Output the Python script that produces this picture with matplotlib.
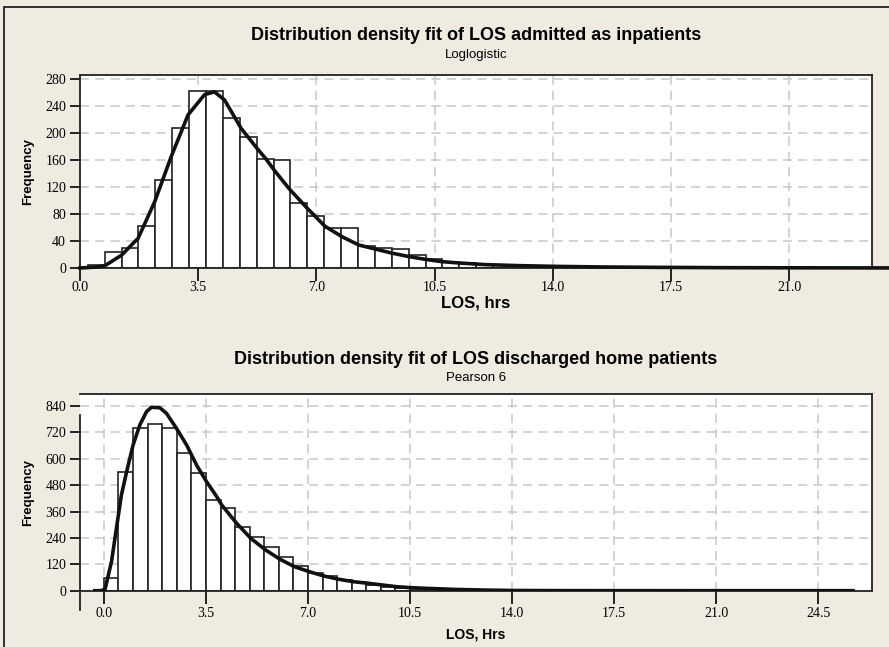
import numpy as np
import matplotlib
matplotlib.use("Agg")
from matplotlib import pyplot as plt
from matplotlib.lines import Line2D
from matplotlib.patches import Rectangle

# top panel: LOS admitted as inpatients (bins of 0.5 h starting at 0.23)
top_start = 0.23
top_width = 0.5
top_counts = [5, 23, 30, 62, 130, 207, 263, 263, 223, 194, 162, 160, 97, 77, 59, 59,
              33, 29, 28, 19, 14, 9, 7, 6, 4, 3, 2, 2, 1, 1, 1]
top_fit_x = [0.0, 0.5, 0.74, 1.23, 1.72, 2.21, 2.70, 3.20, 3.69, 3.98, 4.28, 4.77, 5.23,
             5.5, 5.75, 6.2, 6.7, 7.25, 7.77, 8.26, 8.75, 9.24, 9.73, 10.2, 10.7, 11.2,
             12.0, 13.0, 14.0, 15.5, 17.0, 19.0, 21.0, 23.9]
top_fit_y = [0, 1.5, 3.5, 19, 44, 98, 165, 227, 257, 261, 249, 207, 178,
             162, 145, 117, 90, 62, 46, 34, 28, 22, 17, 13, 9.5, 7.5,
             5, 3.5, 2.5, 1.5, 1, 0.5, 0.3, 0.1]
top_xticks = [0.0, 3.5, 7.0, 10.5, 14.0, 17.5, 21.0]
top_yticks = [0, 40, 80, 120, 160, 200, 240, 280]

# bottom panel: LOS discharged home patients (bins of 0.5 h starting at 0)
bot_start = 0.0
bot_width = 0.5
bot_counts = [59, 541, 742, 757, 742, 628, 534, 413, 375, 291, 246, 200, 152, 114, 79, 67,
              49, 38, 26, 18, 12, 9, 6, 5, 3, 2, 1, 1]
bot_fit_x = [-0.31, -0.1, 0.04, 0.26, 0.43, 0.60, 0.78, 1.0, 1.23, 1.46, 1.63, 1.92, 2.15,
             2.49, 2.84, 3.18, 3.52, 3.87, 4.04, 4.55, 5.04, 5.55, 6.04, 6.54, 7.06, 7.54,
             8.06, 8.55, 9.05, 9.55, 10.05, 10.5, 11.0, 12.0, 13.0, 14.0, 16.0, 20.0, 25.7]
bot_fit_y = [0, 0, 7, 132, 284, 435, 541, 662, 753, 814, 834, 832, 806,
             738, 662, 571, 496, 428, 390, 307, 238, 185, 143, 109, 86, 67,
             52, 41, 34, 26, 18, 14, 11, 6, 3, 1, 0.3, 0.1, 0]
bot_xticks = [0.0, 3.5, 7.0, 10.5, 14.0, 17.5, 21.0, 24.5]
bot_yticks = [0, 120, 240, 360, 480, 600, 720, 840]

bg = "#EFEBE1"
W, H = 889, 647
fig = plt.figure(figsize=(W / 100, H / 100), dpi=100, facecolor=bg)
fig.patches.append(Rectangle((4 / W, -0.1), 1.2, 1 - 7 / H + 0.1, transform=fig.transFigure,
                             fill=False, edgecolor="#222222", linewidth=1.3))

sans = "Liberation Sans"
serif = "Liberation Serif"


def style(ax, xticks, yticks, xpad):
    ax.set_facecolor("white")
    ax.set_axisbelow(True)
    ax.grid(True, color="#c8c8c8", linestyle=(0, (6, 4)), linewidth=1.1)
    ax.set_xticks(xticks)
    ax.set_yticks(yticks)
    ax.set_xticklabels([f"{t:.1f}" for t in xticks], fontfamily=serif, fontsize=10)
    ax.set_yticklabels([str(t) for t in yticks], fontfamily=serif, fontsize=10)
    ax.tick_params(axis="x", length=9, width=1.2, pad=xpad)
    ax.tick_params(axis="y", length=7, width=1.2, pad=3)
    for s in ax.spines.values():
        s.set_linewidth(1.3)
        s.set_color("#222222")


# top panel
ax1 = fig.add_axes([80 / W, 1 - 268 / H, 792 / W, 193 / H])
style(ax1, top_xticks, top_yticks, 0.5)
edges = [top_start + i * top_width for i in range(len(top_counts))]
ax1.bar(edges, top_counts, width=top_width, align="edge", color="white",
        edgecolor="#222222", linewidth=1.2, zorder=2)
ax1.plot(top_fit_x, top_fit_y, color="#111111", linewidth=2.6, zorder=3, clip_on=False)
ax1.set_xlim(0, 23.45)
ax1.set_ylim(0, 286)
ax1.add_line(Line2D([1, 1 + 17 / 792], [0, 0], transform=ax1.transAxes, color="#222222",
                    linewidth=1.3, clip_on=False))
ax1.set_xlabel("LOS, hrs", fontfamily=sans, fontweight="bold", fontsize=12, labelpad=1)
ax1.set_ylabel("Frequency", fontfamily=sans, fontweight="bold", fontsize=9.5, labelpad=8)
fig.text(476 / W, 1 - 36 / H, "Distribution density fit of LOS admitted as inpatients",
         ha="center", va="center", fontfamily=sans, fontweight="bold", fontsize=13)
fig.text(476 / W, 1 - 55 / H, "Loglogistic", ha="center", va="center",
         fontfamily=sans, fontsize=9.5)

# bottom panel
ax2 = fig.add_axes([80 / W, 1 - 590.7 / H, 792 / W, 196.7 / H])
style(ax2, bot_xticks, bot_yticks, 3)
edges = [bot_start + i * bot_width for i in range(len(bot_counts))]
ax2.bar(edges, bot_counts, width=bot_width, align="edge", color="white",
        edgecolor="#222222", linewidth=1.2, zorder=2)
ax2.plot(bot_fit_x, bot_fit_y, color="#111111", linewidth=2.6, zorder=3)
ax2.set_xlim(-0.82, 26.35)
ax2.set_ylim(0, 894.5)
ax2.spines["left"].set_visible(False)
ax2.add_line(Line2D([0, 0], [-0.098, 0.893], transform=ax2.transAxes, color="#222222",
                    linewidth=1.3, clip_on=False))
ax2.set_xlabel("LOS, Hrs", fontfamily=sans, fontweight="bold", fontsize=10, labelpad=5)
ax2.set_ylabel("Frequency", fontfamily=sans, fontweight="bold", fontsize=9.5, labelpad=8)
fig.text(476 / W, 1 - 359 / H, "Distribution density fit of LOS discharged home patients",
         ha="center", va="center", fontfamily=sans, fontweight="bold", fontsize=13)
fig.text(476 / W, 1 - 378 / H, "Pearson 6", ha="center", va="center",
         fontfamily=sans, fontsize=9.5)

fig.savefig("out.png", dpi=100, facecolor=bg)
